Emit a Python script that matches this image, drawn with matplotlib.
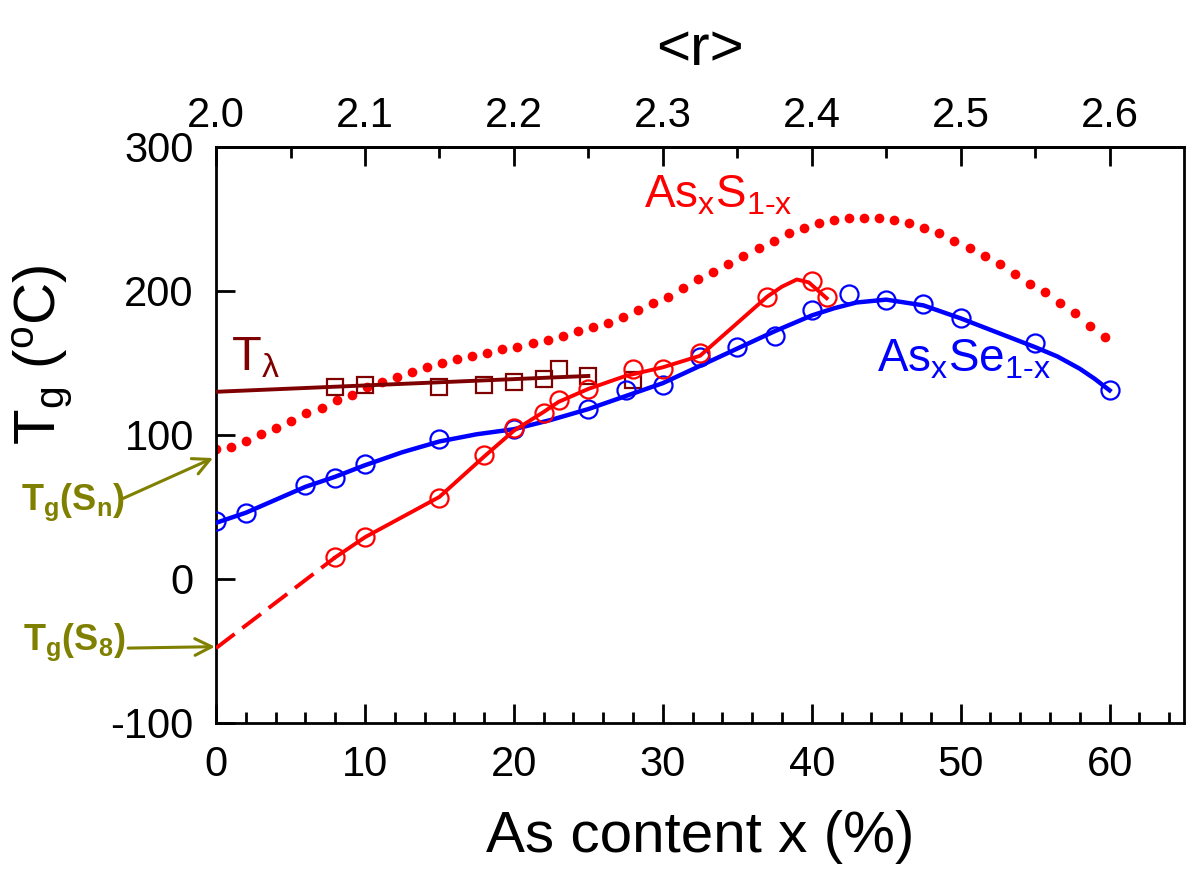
import numpy as np
import matplotlib.pyplot as plt
from matplotlib.ticker import MultipleLocator, FixedLocator, FormatStrFormatter

plt.rcParams['font.family'] = ['Liberation Sans', 'DejaVu Sans']
plt.rcParams['mathtext.fontset'] = 'custom'
plt.rcParams['mathtext.rm'] = 'Liberation Sans'
plt.rcParams['mathtext.it'] = 'Liberation Sans:italic'
plt.rcParams['mathtext.bf'] = 'Liberation Sans:bold'
plt.rcParams['axes.unicode_minus'] = False

# As_xSe_1-x : measured Tg (circles) and smooth guide line
se_x = [0, 2, 6, 8, 10, 15, 20, 25, 27.5, 30, 32.5, 35, 37.5, 40, 42.5, 45, 47.5, 50, 55, 60]
se_T = [40, 46, 65, 70, 80, 97, 104, 118, 131, 135, 154, 161, 169, 187, 198, 194, 191, 181, 164, 131]
se_fit_x = [0, 2, 4, 6, 8, 10, 12.5, 15, 17.5, 20, 22.5, 25, 27.5, 30, 32.5, 35, 37.5, 40,
            41.5, 43, 45, 47.5, 50, 52.5, 55, 56.5, 58, 59, 60]
se_fit_T = [39, 46, 55, 64, 71, 79, 88, 95.5, 100.5, 104, 110.5, 118, 127, 136, 148, 160, 172, 183,
            188, 192, 194, 190, 181, 171, 161, 154.5, 146, 139, 131]

# As_xS_1-x : measured Tg (circles), guide line and extrapolation to S8
s_x = [8, 10, 15, 18, 20, 22, 23, 25, 28, 30, 32.5, 37, 40, 41]
s_T = [15, 29, 56, 86, 105, 115, 124, 132, 146, 146, 157, 196, 207, 196]
s_fit_x = [8, 10, 15, 18, 20, 22, 23, 25, 27.5, 30, 32.5, 34.7, 37, 38, 39, 39.8, 41]
s_fit_T = [15, 29, 57, 85, 103, 116, 123, 132, 141, 147, 155, 175, 196, 203, 208, 206, 195]
s_extrap_x = [0, 8]
s_extrap_T = [-48, 15]

# As_xS_1-x : Tg from polymeric sulphur S_n (dotted)
sn_x = np.linspace(0, 59.7, 60)
sn_T = [90, 92, 96, 101, 105, 110, 115, 119, 124, 128, 133, 137, 140, 144, 147, 150, 153, 155,
        157, 160, 161, 164, 166, 169, 172, 175, 178, 182, 187, 192, 196, 202, 208, 213, 219, 224,
        230, 235, 240, 244, 247, 249, 251, 251, 251, 249, 247, 244, 240, 235, 230, 224, 219, 212,
        205, 199, 192, 185, 176, 168]

# T_lambda (squares) and linear fit
lam_x = [8, 10, 15, 18, 20, 22, 23, 25, 28]
lam_T = [133, 135, 133, 135, 137, 139, 146, 141, 138]
lam_fit_x = [0, 25]
lam_fit_T = [130, 141]

r_ticks = [2.0, 2.1, 2.2, 2.3, 2.4, 2.5, 2.6]
r_minor = [2.05, 2.15, 2.25, 2.35, 2.45, 2.55]

red = '#ff0000'
blue = '#0000ff'
dred = '#7f0000'
olive = '#808000'

fig = plt.figure(figsize=(11.93, 8.86), dpi=100)
ax = fig.add_axes([0.1811, 0.1840, 0.8114, 0.6501])

ax.plot(sn_x, sn_T, 'o', color=red, markersize=7, markeredgewidth=0, zorder=2)

ax.plot(lam_fit_x, lam_fit_T, '-', color=dred, lw=2.8, zorder=3)
ax.plot(lam_x, lam_T, 's', mfc='none', mec=dred, mew=1.6, markersize=11, zorder=3)

ax.plot(se_fit_x, se_fit_T, '-', color=blue, lw=3.2, zorder=4)
ax.plot(se_x, se_T, 'o', mfc='none', mec=blue, mew=1.6, markersize=13, zorder=4)

ax.plot(s_fit_x, s_fit_T, '-', color=red, lw=2.8, zorder=5)
ax.plot(s_extrap_x, s_extrap_T, '--', color=red, lw=2.8, dashes=(6, 2.5), zorder=5)
ax.plot(s_x, s_T, 'o', mfc='none', mec=red, mew=1.6, markersize=13, zorder=5)

ax.set_xlim(0, 65)
ax.set_ylim(-100, 300)

ax.xaxis.set_major_locator(MultipleLocator(10))
ax.xaxis.set_minor_locator(MultipleLocator(2))
ax.yaxis.set_major_locator(MultipleLocator(100))
ax.tick_params(which='both', direction='in', top=False, right=False, width=2,
               labelsize=30, pad=16)
ax.tick_params(which='major', length=13.7)
ax.tick_params(which='minor', length=8)
for sp in ax.spines.values():
    sp.set_linewidth(2)

ax.set_xlabel('As content x (%)', fontsize=42, labelpad=18)
ax.set_ylabel(r'T$_\mathrm{g}$ ($^\mathrm{o}$C)', fontsize=42)
ax.yaxis.set_label_coords(-0.147, 0.639)

# mean coordination number on top
secax = ax.secondary_xaxis('top', functions=(lambda x: 2 + x / 100, lambda r: (r - 2) * 100))
secax.xaxis.set_major_locator(FixedLocator(r_ticks))
secax.xaxis.set_minor_locator(FixedLocator(r_minor))
secax.xaxis.set_major_formatter(FormatStrFormatter('%.1f'))
secax.tick_params(which='both', direction='in', width=2, labelsize=30, pad=8)
secax.tick_params(which='major', length=13.7)
secax.tick_params(which='minor', length=8)
secax.spines['top'].set_linewidth(2)
secax.set_xlabel('<r>', fontsize=42, labelpad=22)

ax.text(28.75, 258, r'As$_\mathrm{x}$S$_\mathrm{1\text{-}x}$', color=red, fontsize=33)
ax.text(44.4, 144, r'As$_\mathrm{x}$Se$_\mathrm{1\text{-}x}$', color=blue, fontsize=33)
ax.text(1.0, 145, r'T$_\mathrm{\lambda}$', color=dred, fontsize=35)

ax.text(-13.07, 48, r'T$_\mathbf{g}$(S$_\mathbf{n}$)', color=olive, fontsize=26,
        fontweight='bold', clip_on=False)
ax.text(-12.94, -49, r'T$_\mathbf{g}$(S$_\mathbf{8}$)', color=olive, fontsize=26,
        fontweight='bold', clip_on=False)
arrow = dict(arrowstyle='->,head_length=0.6,head_width=0.3', color=olive, lw=2.2,
             mutation_scale=20, shrinkA=0, shrinkB=0)
ax.annotate('', xy=(-0.2, 84), xytext=(-6.23, 56), arrowprops=arrow, annotation_clip=False)
ax.annotate('', xy=(-0.07, -47), xytext=(-5.9, -48), arrowprops=arrow, annotation_clip=False)

plt.savefig('out.png', dpi=100)
